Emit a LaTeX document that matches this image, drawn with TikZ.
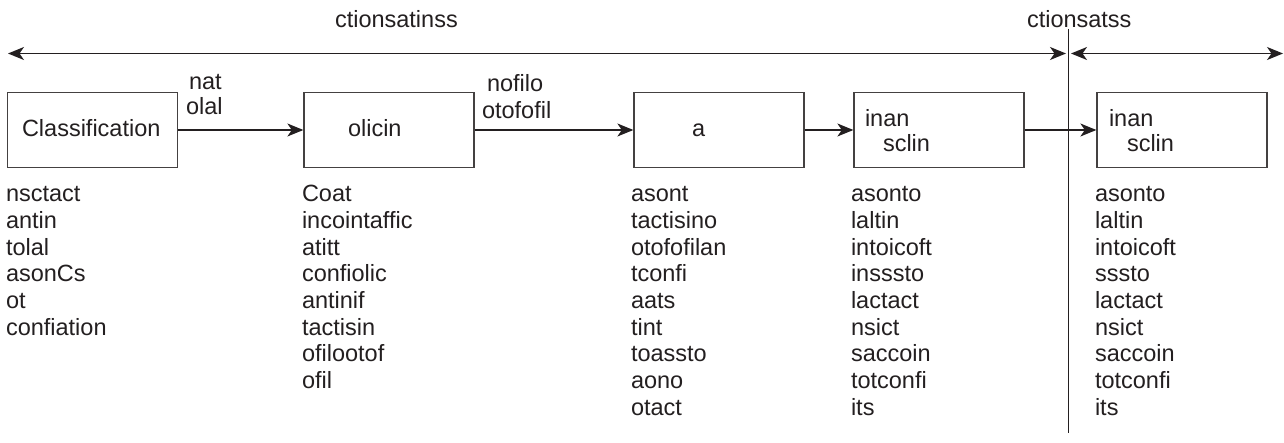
\documentclass[tikz,border=0pt]{standalone}
\usepackage{fontspec}
\setmainfont{Liberation Sans}
\usetikzlibrary{arrows.meta}
\definecolor{ink}{RGB}{35,31,32}
\begin{document}
\begin{tikzpicture}[x=1pt,y=-1pt,
  txt/.style={inner sep=0pt, outer sep=0pt, anchor=base west, font=\fontsize{23.5}{26.7}\selectfont, text=ink},
  box/.style={draw=ink!85, line width=1.3pt, minimum width=170pt, minimum height=75pt, inner sep=0pt},
  arr/.style={draw=ink, line width=1.3pt, -{Stealth[length=16pt,width=13pt,inset=4.5pt]}},
  darr/.style={draw=ink, line width=1.3pt, {Stealth[length=16pt,width=13pt,inset=4.5pt]}-{Stealth[length=16pt,width=13pt,inset=4.5pt]}},
  vline/.style={draw=ink, line width=0.9pt}]
\useasboundingbox (0,0) rectangle (1284,443);

% top labels and arrows
\node[txt] (top1) at (335,28) {ctionsatinss};
\node[txt] (top2) at (1027,28) {ctionsatss};
\coordinate (aL) at (8,53.5);
\coordinate (aM1) at (1066,53.5);
\coordinate (aM2) at (1071,53.5);
\coordinate (aR) at (1283,53.5);
\draw[darr] (aL) -- (aM1);
\draw[darr] (aM2) -- (aR);
\coordinate (vT) at (1068,29);
\coordinate (vB) at (1068,433);
\draw[vline] (vT) -- (vB);

% boxes
\node[box] (b1) at (92.5,130) {};
\node[box] (b2) at (389,130) {};
\node[box] (b3) at (719,130) {};
\node[box] (b4) at (939,130) {};
\node[box] (b5) at (1182,130) {};

\node[txt] (b1t) at (22,136.7) {Classification};
\node[txt] (b2t) at (348,137) {olicin};
\node[txt] (b3t) at (692,137) {a};
\node[txt] (b4t1) at (865,126.7) {inan};
\node[txt] (b4t2) at (883,151.7) {sclin};
\node[txt] (b5t1) at (1109,126.7) {inan};
\node[txt] (b5t2) at (1127,151.7) {sclin};

% connector labels
\node[txt] (l1a) at (189,89.3) {nat};
\node[txt] (l1b) at (186,115) {olal};
\node[txt] (l2a) at (487,91.7) {nofilo};
\node[txt] (l2b) at (482,118.3) {otofofil};

% connectors
\draw[arr] (b1.east) -- (b2.west);
\draw[arr] (b2.east) -- (b3.west);
\draw[arr] (b3.east) -- (b4.west);
\draw[arr] (b4.east) -- (b5.west);

% columns
\foreach \t [count=\i] in {nsctact,antin,tolal,asonCs,ot,confiation}
  \node[txt] (cA\i) at (6,{201.7+26.7*(\i-1)}) {\t};
\foreach \t [count=\i] in {Coat,incointaffic,atitt,confiolic,antinif,tactisin,ofilootof,ofil}
  \node[txt] (cB\i) at (302,{201.7+26.7*(\i-1)}) {\t};
\foreach \t [count=\i] in {asont,tactisino,otofofilan,tconfi,aats,tint,toassto,aono,otact}
  \node[txt] (cC\i) at (631,{201.7+26.7*(\i-1)}) {\t};
\foreach \t [count=\i] in {asonto,laltin,intoicoft,insssto,lactact,nsict,saccoin,totconfi,its}
  \node[txt] (cD\i) at (851,{201.7+26.7*(\i-1)}) {\t};
\foreach \t [count=\i] in {asonto,laltin,intoicoft,sssto,lactact,nsict,saccoin,totconfi,its}
  \node[txt] (cE\i) at (1095,{201.7+26.7*(\i-1)}) {\t};
\end{tikzpicture}
\end{document}
